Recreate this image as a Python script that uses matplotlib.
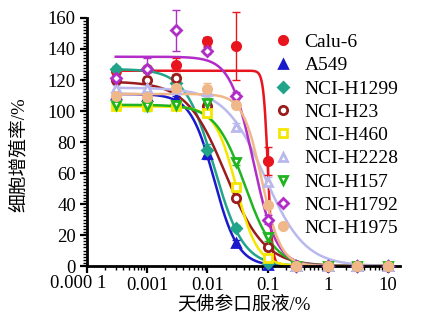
import numpy as np
import matplotlib
matplotlib.use('Agg')
import matplotlib.pyplot as plt
from matplotlib.ticker import MultipleLocator, LogLocator, FixedLocator, NullFormatter

plt.rcParams['font.family'] = ['Liberation Serif', 'Noto Sans CJK SC']
plt.rcParams['axes.unicode_minus'] = False

# concentrations (%)
conc = [0.0003, 0.001, 0.003, 0.01, 0.03, 0.1, 0.3, 1, 3, 10]

names = ['Calu-6', 'A549', 'NCI-H1299', 'NCI-H23', 'NCI-H460',
         'NCI-H2228', 'NCI-H157', 'NCI-H1792', 'NCI-H1975']

# proliferation rate (%)
calu6   = [126, 127, 130, 145, 142, 68, 0, 0, 0, 0]
a549    = [111, 110, 108, 72, 15, 0.5, 0, 0, 0, 0]
h1299   = [127, 127, 118, 75, 24.5, 2, 0, 0, 0, 0]
h23     = [120, 120, 121, 103, 44, 12.5, 0, 0, 0, 0]
h460    = [103, 103, 103, 99, 51, 5, 0, 0, 0, 0]
h2228   = [115, 115, 114, 113, 90, 54.5, 0, 0, 0, 0]
h157    = [104, 103, 104, 105, 67, 18.5, 0, 0, 0, 0]
h1792   = [121, 127, 152, 139, 110, 30, 0, 0, 0, 0]
h1975   = [110, 109, 115, 114, 104, 39.4, 0, 0, 0, 0]

err_calu6 = [2, 2, 4, 3, 22, 9, 0, 0, 0, 0]
err_a549  = [2, 2, 2, 3, 2, 1, 0, 0, 0, 0]
err_h1299 = [2, 2, 2, 4, 2, 1, 0, 0, 0, 0]
err_h23   = [2, 2, 3, 3, 2, 2, 0, 0, 0, 0]
err_h460  = [2, 2, 2, 3, 2, 1, 0, 0, 0, 0]
err_h2228 = [2, 2, 3, 3, 2, 3, 0, 0, 0, 0]
err_h157  = [3, 3, 2, 3, 2, 2, 0, 0, 0, 0]
err_h1792 = [2, 7, 13, 2, 2, 3, 0, 0, 0, 0]
err_h1975 = [2, 2, 2, 4, 2, 2, 0, 0, 0, 0]

# fitted curve parameters (top, IC50, Hill slope), bottom = 0
tops  = [126, 111, 127, 119, 103, 115, 104, 135, 111]
ic50s = [0.101, 0.013, 0.013, 0.020, 0.030, 0.090, 0.042, 0.058, 0.080]
hills = [12, 2.2, 1.8, 1.35, 2.45, 1.3, 1.77, 2.27, 2.74]

xtick_vals = [1e-4, 1e-3, 1e-2, 1e-1, 1, 10]
xtick_labels = ['0.000 1', '0.001', '0.01', '0.1', '1', '10']

data = [calu6, a549, h1299, h23, h460, h2228, h157, h1792, h1975]
errs = [err_calu6, err_a549, err_h1299, err_h23, err_h460,
        err_h2228, err_h157, err_h1792, err_h1975]

colors = ['#e8141e', '#1a1acc', '#21a58a', '#9b1c1c', '#f5e600',
          '#b9b9ee', '#20b520', '#b22cc8', '#f0b888']
markers = ['o', '^', 'D', 'o', 's', '^', 'v', 'D', 'o']
filled = [True, True, True, False, False, False, False, False, True]

fig = plt.figure(figsize=(4.45, 3.21), dpi=100)
ax = fig.add_axes([0.1955, 0.171, 0.704, 0.773])

xs = np.logspace(np.log10(0.0003), 1, 400)
handles = []
for i in range(len(names)):
    c = colors[i]
    yfit = tops[i] / (1 + (xs / ic50s[i]) ** hills[i])
    ax.plot(xs, yfit, color=c, lw=1.8, zorder=2)
    ax.errorbar(conc, data[i], yerr=errs[i], fmt='none', ecolor=c,
                elinewidth=1, capsize=3, zorder=3, clip_on=False)
    mfc = c if filled[i] else 'white'
    ms = 6 if markers[i] != 'D' else 5.5
    h, = ax.plot(conc, data[i], linestyle='none', marker=markers[i], ms=ms,
                 mfc=mfc, mec=c, mew=2, zorder=4, clip_on=False,
                 label=names[i])
    handles.append(h)

ax.set_xscale('log')
ax.set_xlim(1e-4, 16)
ax.set_ylim(0, 160)
ax.xaxis.set_major_locator(FixedLocator(xtick_vals))
ax.set_xticklabels([''] + xtick_labels[1:])
# first label drawn separately, nudged a little left like the original
ax.annotate(xtick_labels[0], xy=(xtick_vals[0], 0), xycoords=('data', 'axes fraction'),
            xytext=(-6, -6.5), textcoords='offset points', ha='center', va='top',
            fontsize=13.5, annotation_clip=False)
ax.xaxis.set_minor_locator(LogLocator(base=10, subs=np.arange(2, 10), numticks=20))
ax.xaxis.set_minor_formatter(NullFormatter())
ax.yaxis.set_major_locator(MultipleLocator(20))
ax.yaxis.set_minor_locator(MultipleLocator(2))

for s in ['top', 'right']:
    ax.spines[s].set_visible(False)
for s in ['left', 'bottom']:
    ax.spines[s].set_linewidth(2)
ax.tick_params(which='major', direction='out', length=5, width=1.6, labelsize=13.5, pad=3)
ax.tick_params(which='minor', direction='out', length=3, width=1)

ax.set_xlabel('天佛参口服液/%', fontsize=13.5, labelpad=1)
ax.set_ylabel('细胞增殖率/%', fontsize=13.5)
ax.yaxis.set_label_coords(-0.19, 0.45)

fig.legend(handles=handles, loc='upper left', bbox_to_anchor=(0.597, 0.92),
           frameon=False, fontsize=14, handlelength=1.0, handletextpad=0.6,
           labelspacing=0.29, borderaxespad=0)

fig.savefig('out.png', dpi=100)
